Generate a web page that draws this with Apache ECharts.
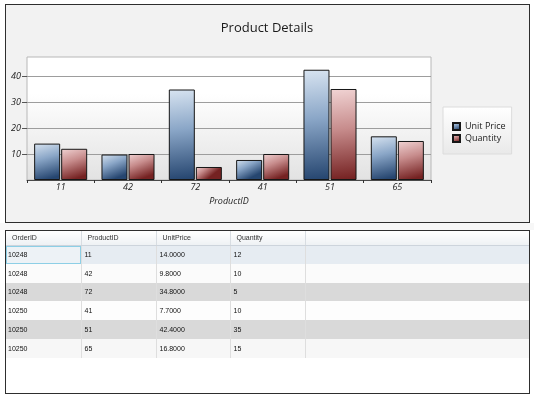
<!DOCTYPE html>
<html>
<head>
<meta charset="utf-8">
<script src="https://cdn.jsdelivr.net/npm/echarts@6/dist/echarts.min.js"></script>
<style>
  html, body { margin: 0; padding: 0; background: #ffffff; }
  body { width: 534px; height: 395px; position: relative; overflow: hidden; }
  #topPanel { position: absolute; left: 5px; top: 4px; width: 525px; height: 219px; box-sizing: border-box;
              border: 1px solid #2e2e2e; background: #f2f2f2; }
  #strip { position: absolute; left: 0; top: 223px; width: 534px; height: 7px; background: #f7f7f7; }
  #chart { position: absolute; left: 0; top: 0; width: 534px; height: 225px; }
  #tablePanel { position: absolute; left: 5px; top: 230px; width: 525px; height: 164px; box-sizing: border-box;
                border: 1px solid #2e2e2e; background: #ffffff; overflow: hidden; }
  table { border-collapse: collapse; table-layout: fixed; width: 523px; font-family: "Liberation Sans", Arial, sans-serif; font-size: 7px;
          will-change: transform; -webkit-font-smoothing: antialiased; }
  th { height: 14px; padding: 0 0 0 6px; text-align: left; font-weight: normal; color: #333;
       background: linear-gradient(#ffffff, #eef1f4); border-bottom: 1px solid #cdd4dc; border-right: 1px solid #d8dde2; box-sizing: border-box; }
  td { height: 18.8px; padding: 0 0 0 2px; color: #111; border-right: 1px solid #dedede; box-sizing: border-box; }
  td.c2, td.c3, td.c4 { padding-left: 3px; }
  th.last, td.last { border-right: none; }
  tr.r0 td { background: #e6ecf2; }
  tr.r0 td.sel { background: #edf2f6; box-shadow: inset 0 0 0 1px #8dcfe6; }
  tr.r1 td { background: #fbfbfb; }
  tr.r2 td { background: #d9d9d9; }
  tr.r3 td { background: #fdfdfd; }
  tr.r4 td { background: #d9d9d9; }
  tr.r5 td { background: #f7f7f7; }
</style>
</head>
<body>
<div id="topPanel"></div>
<div id="strip"></div>
<div id="chart"></div>
<div id="tablePanel"><table id="grid"></table></div>
<script>
// ---- data ----
const categories = ['11', '42', '72', '41', '51', '65'];
const unitPrice = [14.0, 9.8, 34.8, 7.7, 42.4, 16.8];
const quantity = [12, 10, 5, 10, 35, 15];
const orderIDs = ['10248', '10248', '10248', '10250', '10250', '10250'];
const yTicks = [10, 20, 30, 40];
const yMax = 47.3;
const tableHeaders = ['OrderID', 'ProductID', 'UnitPrice', 'Quantity'];
const seriesNames = ['Unit Price', 'Quantity'];

// ---- table ----
(function buildTable() {
  const t = document.getElementById('grid');
  const widths = [75, 75, 74, 75];
  let html = '<colgroup>' + widths.map(w => '<col style="width:' + w + 'px">').join('') + '<col></colgroup>';
  html += '<tr>' + tableHeaders.map(h => '<th>' + h + '</th>').join('') + '<th class="last"></th></tr>';
  for (let i = 0; i < categories.length; i++) {
    html += '<tr class="r' + i + '">' +
      '<td class="c1' + (i === 0 ? ' sel' : '') + '">' + orderIDs[i] + '</td>' +
      '<td class="c2">' + categories[i] + '</td>' +
      '<td class="c3">' + unitPrice[i].toFixed(4) + '</td>' +
      '<td class="c4">' + quantity[i] + '</td>' +
      '<td class="last"></td></tr>';
  }
  t.innerHTML = html;
})();

// ---- chart ----
const chart = echarts.init(document.getElementById('chart'), null, { renderer: 'canvas' });
const blueGrad = new echarts.graphic.LinearGradient(0, 0, 0.4, 1, [
  { offset: 0, color: '#d8e4f1' }, { offset: 0.45, color: '#8aa6c7' }, { offset: 1, color: '#264670' }
]);
const redGrad = new echarts.graphic.LinearGradient(0, 0, 0.4, 1, [
  { offset: 0, color: '#f1d4d4' }, { offset: 0.45, color: '#c78c8c' }, { offset: 1, color: '#752222' }
]);
const font = '"Open Sans", "DejaVu Sans", sans-serif';
chart.setOption({
  animation: false,
  backgroundColor: 'transparent',
  title: {
    text: 'Product Details', left: 'center', top: 22, padding: 0,
    textStyle: { fontFamily: font, fontSize: 13, fontWeight: 'normal', color: '#1a1a1a' }
  },
  legend: {
    orient: 'vertical', left: 443, top: 107,
    padding: [14, 6, 10, 9],
    itemWidth: 7, itemHeight: 7, itemGap: 1,
    backgroundColor: new echarts.graphic.LinearGradient(0, 0, 0, 1, [
      { offset: 0, color: '#ffffff' }, { offset: 1, color: '#e9e9e9' }
    ]),
    borderColor: '#dcdcdc', borderWidth: 1,
    icon: 'rect',
    textStyle: { fontFamily: font, fontSize: 9, color: '#222', lineHeight: 11 },
    data: seriesNames
  },
  grid: {
    left: 27, top: 57, right: 103, bottom: 45, show: true,
    borderColor: '#b8b8b8', borderWidth: 1,
    backgroundColor: new echarts.graphic.LinearGradient(0, 0, 0, 1, [
      { offset: 0, color: '#ffffff' }, { offset: 0.3, color: '#ffffff' }, { offset: 1, color: '#e2e2e2' }
    ])
  },
  xAxis: {
    type: 'category', data: categories,
    name: 'ProductID', nameLocation: 'middle', nameGap: 14,
    nameTextStyle: { fontFamily: font, fontSize: 9, fontStyle: 'italic', color: '#222' },
    axisLine: { lineStyle: { color: '#4a4a4a', width: 1 } },
    axisTick: { show: true, length: 3, lineStyle: { color: '#333' } },
    axisLabel: { fontFamily: font, fontSize: 9, fontStyle: 'italic', color: '#222', margin: 3 },
    splitLine: { show: false }
  },
  yAxis: {
    type: 'value', min: 0, max: yMax, interval: 10,
    axisLine: { show: false },
    axisTick: { show: true, length: 5, customValues: yTicks, lineStyle: { color: '#555' } },
    axisLabel: { fontFamily: font, fontSize: 9, fontStyle: 'italic', color: '#222', margin: 6, customValues: yTicks },
    splitLine: { show: true, lineStyle: { color: '#9d9d9d', width: 1 } }
  },
  series: [
    {
      name: seriesNames[0], type: 'bar', data: unitPrice, barWidth: 26, barGap: '4%',
      itemStyle: { color: blueGrad, borderColor: '#161616', borderWidth: 1 }
    },
    {
      name: seriesNames[1], type: 'bar', data: quantity, barWidth: 26,
      itemStyle: { color: redGrad, borderColor: '#161616', borderWidth: 1 }
    }
  ]
});
</script>
</body>
</html>
